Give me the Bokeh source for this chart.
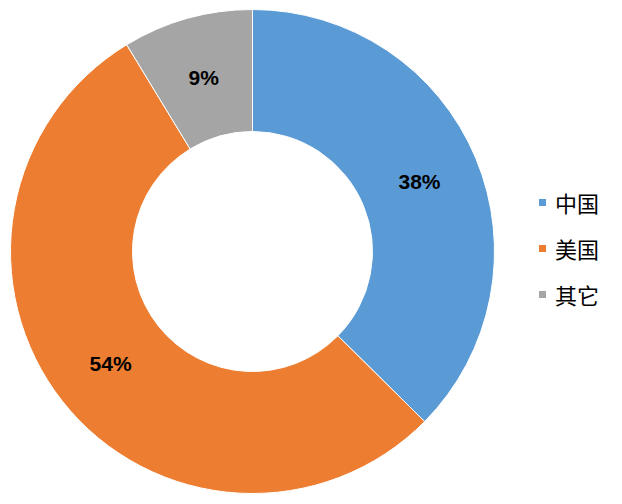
import numpy as np
from bokeh.plotting import figure
from bokeh.models import ColumnDataSource, Range1d, Legend, LegendItem
from bokeh.core.properties import value
from bokeh.embed import file_html
from bokeh.resources import INLINE

categories = ["中国", "美国", "其它"]
shares = [37.4, 53.9, 8.7]
labels = ["38%", "54%", "9%"]
colors = ["#5B9BD5", "#ED7D31", "#A5A5A5"]

W, H = 614, 496
cx, cy = 252, H - 251
r_out, r_in = 242, 120

vals = np.array(shares, dtype=float)
frac = vals / vals.sum()
cum = np.concatenate([[0], np.cumsum(frac)])
start = np.pi / 2 - 2 * np.pi * cum[:-1]
end = np.pi / 2 - 2 * np.pi * cum[1:]
mid = (start + end) / 2
r_lab = 181

src = ColumnDataSource(dict(
    cat=categories, start=start, end=end, color=colors, label=labels,
    lx=cx + r_lab * np.cos(mid), ly=cy + r_lab * np.sin(mid),
))

p = figure(width=W, height=H, output_backend="svg", toolbar_location=None,
           x_range=Range1d(0, W), y_range=Range1d(0, H),
           x_axis_type=None, y_axis_type=None, min_border=0)
p.outline_line_color = None
p.grid.visible = False

renderers = []
for i in range(len(categories)):
    r = p.annular_wedge(x=cx, y=cy, inner_radius=r_in, outer_radius=r_out,
                        start_angle=start[i], end_angle=end[i], direction="clock",
                        fill_color=colors[i], line_color="white", line_width=1)
    renderers.append(r)

p.text(x="lx", y="ly", text="label", source=src, text_align="center",
       text_baseline="middle", text_font=value("Liberation Sans"),
       text_font_style="bold", text_font_size="21px", text_color="black")

item_h, gap = 32, 14
box_h = 3 * item_h + 2 * gap
top_from_top = 202 - item_h / 2
legend = Legend(items=[LegendItem(label=categories[i], renderers=[renderers[i]]) for i in range(3)],
                location=(537, H - top_from_top - box_h), orientation="vertical",
                glyph_width=10, glyph_height=10, label_height=item_h, spacing=gap,
                label_standoff=8, padding=0, margin=0,
                border_line_color=None, background_fill_alpha=0,
                label_text_font="Noto Sans CJK SC", label_text_font_size="22px",
                label_text_color="black")
p.add_layout(legend)

open("out.html", "w").write(file_html(p, INLINE))
